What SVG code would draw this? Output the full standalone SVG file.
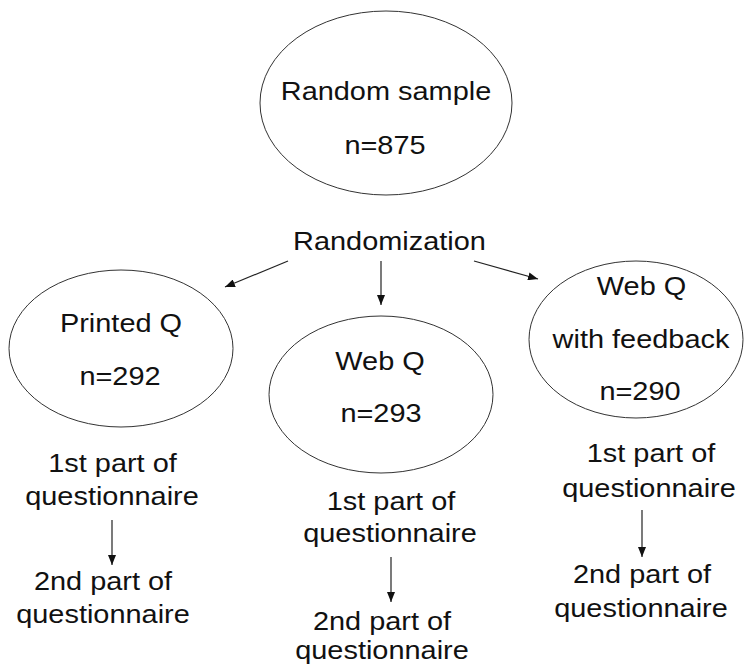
<svg xmlns="http://www.w3.org/2000/svg" width="745" height="666" viewBox="0 0 745 666">
  <defs>
    <style>
      .node ellipse { fill: #ffffff; stroke: #333333; stroke-width: 1; }
      text { font-family: "Liberation Sans", Arial, sans-serif; font-size: 25.6px; fill: #111111; text-anchor: middle; }
      .conn line { stroke: #222222; stroke-width: 1.2; marker-end: url(#arrow); }
    </style>
    <marker id="arrow" markerUnits="userSpaceOnUse" markerWidth="10" markerHeight="8" refX="10" refY="4" orient="auto">
      <path d="M0,0 L10,4 L0,8 z" fill="#111111"/>
    </marker>
  </defs>
  <rect width="745" height="666" fill="#ffffff"/>

  <g id="random-sample" class="node">
    <ellipse cx="386" cy="103" rx="126" ry="92"/>
    <text transform="translate(386,100) scale(1.13,1)">Random sample</text>
    <text transform="translate(385,154) scale(1.13,1)">n=875</text>
  </g>

  <g id="randomization" class="node">
    <text transform="translate(389.5,250) scale(1.13,1)">Randomization</text>
  </g>

  <g id="printed-q" class="node">
    <ellipse cx="121" cy="348.5" rx="112" ry="78.5"/>
    <text transform="translate(121,332) scale(1.13,1)">Printed Q</text>
    <text transform="translate(120,385) scale(1.13,1)">n=292</text>
  </g>

  <g id="web-q" class="node">
    <ellipse cx="381" cy="394.5" rx="112" ry="78.5"/>
    <text transform="translate(380,370) scale(1.13,1)">Web Q</text>
    <text transform="translate(381,421.5) scale(1.13,1)">n=293</text>
  </g>

  <g id="web-q-feedback" class="node">
    <ellipse cx="636" cy="339.5" rx="107" ry="78.5"/>
    <text transform="translate(641.5,295) scale(1.13,1)">Web Q</text>
    <text transform="translate(641,348) scale(1.13,1)">with feedback</text>
    <text transform="translate(640,400) scale(1.13,1)">n=290</text>
  </g>

  <g id="printed-part1" class="node">
    <text transform="translate(112.5,472) scale(1.13,1)">1st part of</text>
    <text transform="translate(112,505) scale(1.13,1)">questionnaire</text>
  </g>
  <g id="printed-part2" class="node">
    <text transform="translate(103,590) scale(1.13,1)">2nd part of</text>
    <text transform="translate(103,623) scale(1.13,1)">questionnaire</text>
  </g>

  <g id="web-part1" class="node">
    <text transform="translate(391,510) scale(1.13,1)">1st part of</text>
    <text transform="translate(390,542) scale(1.13,1)">questionnaire</text>
  </g>
  <g id="web-part2" class="node">
    <text transform="translate(382,630) scale(1.13,1)">2nd part of</text>
    <text transform="translate(382,659) scale(1.13,1)">questionnaire</text>
  </g>

  <g id="feedback-part1" class="node">
    <text transform="translate(651,462) scale(1.13,1)">1st part of</text>
    <text transform="translate(649,497) scale(1.13,1)">questionnaire</text>
  </g>
  <g id="feedback-part2" class="node">
    <text transform="translate(642,583) scale(1.13,1)">2nd part of</text>
    <text transform="translate(641,617) scale(1.13,1)">questionnaire</text>
  </g>

  <g id="connectors" class="conn">
    <line x1="288" y1="261" x2="225" y2="287"/>
    <line x1="381" y1="261" x2="381" y2="305"/>
    <line x1="474" y1="261" x2="538" y2="279"/>
    <line x1="112" y1="520" x2="112" y2="565"/>
    <line x1="391" y1="557" x2="391" y2="602"/>
    <line x1="642" y1="510" x2="642" y2="557"/>
  </g>
</svg>
